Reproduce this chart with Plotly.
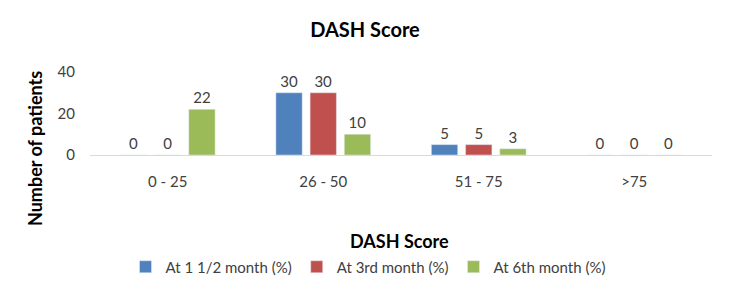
import plotly.graph_objects as go

categories = ["0 - 25", "26 - 50", "51 - 75", ">75"]
series_names = ["At 1 1/2 month (%)", "At 3rd month (%)", "At 6th month (%)"]
month_1_5 = [0, 30, 5, 0]
month_3 = [0, 30, 5, 0]
month_6 = [22, 10, 3, 0]
colors = ["#4F81BD", "#C0504D", "#9BBB59"]

FONT = "Lato, 'Open Sans', sans-serif"
W, H = 724, 283  # page has 8px body margin

fig = go.Figure()
for name, vals, col in zip(series_names, [month_1_5, month_3, month_6], colors):
    fig.add_trace(go.Bar(
        x=categories, y=vals, name=name, marker_color=col,
        text=[str(v) for v in vals], textposition="outside", cliponaxis=False,
        textfont=dict(size=15, color="#404040", family=FONT),
    ))

L, R, T, B = 82, 20, 64, 136
pw, ph = W - L - R, H - T - B

fig.update_layout(
    width=W, height=H,
    margin=dict(l=L, r=R, t=T, b=B),
    paper_bgcolor="white", plot_bgcolor="white",
    barmode="group", bargap=0.34, bargroupgap=0.23,
    font=dict(family=FONT, color="#595959", size=15),
    title=dict(text="<b>DASH Score</b>", x=357 / W, xref="container", xanchor="center",
               y=1 - 22 / H, yref="container", yanchor="middle",
               font=dict(size=20, color="#000000", family=FONT)),
    showlegend=True,
    legend=dict(orientation="h", xref="container", yref="container", x=360 / W, xanchor="center",
                y=(H - 259) / H, yanchor="middle",
                font=dict(size=15, color="#404040", family=FONT),
                itemwidth=30, traceorder="normal"),
    xaxis=dict(showline=True, linecolor="#D9D9D9", linewidth=1, ticks="",
               tickfont=dict(size=15, color="#404040"), showgrid=False,
               ticklabelstandoff=13),
    yaxis=dict(range=[0, 40], tickvals=[0, 20, 40], showgrid=False, zeroline=False,
               showline=False, tickfont=dict(size=15, color="#404040"),
               ticklabelstandoff=14),
    annotations=[
        dict(text="<b>Number of patients</b>", textangle=-90, xref="paper", yref="paper",
             x=(27 - L) / pw, y=(147 - 141) / ph, xanchor="center", yanchor="middle",
             showarrow=False, font=dict(size=18, color="#000000", family=FONT)),
        dict(text="<b>DASH Score</b>", xref="paper", yref="paper",
             x=(391 - L) / pw, y=-(233 - 147) / ph, xanchor="center", yanchor="middle",
             showarrow=False, font=dict(size=18, color="#000000", family=FONT)),
    ],
)

fig.write_html("out.html")
